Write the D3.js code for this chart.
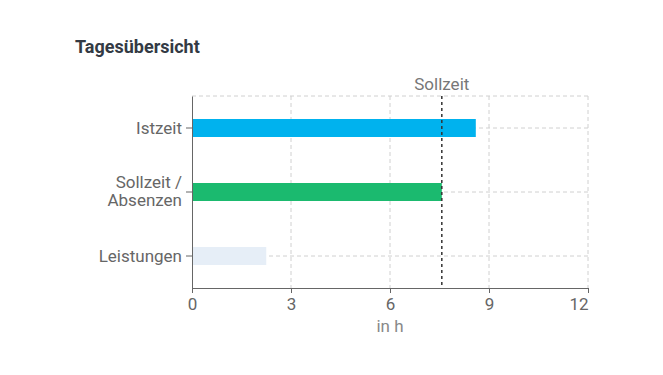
<!DOCTYPE html>
<html>
<head>
<meta charset="utf-8">
<script src="https://cdn.jsdelivr.net/npm/d3@7"></script>
<style>
  body { margin: 0; background: #fff; font-family: Roboto, "Open Sans", sans-serif; }
  .grid line { stroke: #d0d0d0; stroke-dasharray: 4,3; }
  .axis text { fill: #666; font-size: 17px; font-family: Roboto, sans-serif; }
  .axis path, .axis line { stroke: #666; }
</style>
</head>
<body>
<div id="chart"></div>
<script>
// data
var categories = ["Istzeit", "Sollzeit / Absenzen", "Leistungen"];
var hours = [8.6, 7.57, 2.25];
var barColors = ["#00b2ee", "#1bba6f", "#e6eef7"];
var sollzeit = 7.57;
var xTicks = [0, 3, 6, 9, 12];

var svgWidth = 663, svgHeight = 375;
var margin = { top: 96, right: 75, bottom: 87, left: 192 };
var width = svgWidth - margin.left - margin.right;
var height = svgHeight - margin.top - margin.bottom;

var svg = d3.select("#chart").append("svg")
  .attr("width", svgWidth)
  .attr("height", svgHeight);

svg.append("text")
  .attr("x", 75).attr("y", 53)
  .attr("fill", "#333a44")
  .style("font-size", "18px").style("font-weight", "bold")
  .text("Tagesübersicht");

var chartGroup = svg.append("g")
  .attr("transform", `translate(${margin.left}, ${margin.top})`);

var x = d3.scaleLinear().domain([0, 12]).range([0, width]);
var y = d3.scaleBand().domain(categories).range([0, height]);

// grid
var grid = chartGroup.append("g").attr("class", "grid");
grid.selectAll(".v").data(xTicks.slice(1)).enter().append("line")
  .attr("x1", d => x(d)).attr("x2", d => x(d))
  .attr("y1", 0).attr("y2", height);
grid.selectAll(".h").data([null].concat(categories)).enter().append("line")
  .attr("x1", 0).attr("x2", width)
  .attr("y1", d => d === null ? 0 : y(d) + y.bandwidth() / 2)
  .attr("y2", d => d === null ? 0 : y(d) + y.bandwidth() / 2);

// bars
chartGroup.selectAll("rect.bar").data(categories).enter().append("rect")
  .attr("class", "bar")
  .attr("x", 0)
  .attr("y", d => y(d) + y.bandwidth() / 2 - 9)
  .attr("height", 18)
  .attr("width", (d, i) => x(hours[i]))
  .attr("fill", (d, i) => barColors[i]);

// Sollzeit line
chartGroup.append("line")
  .attr("x1", x(sollzeit)).attr("x2", x(sollzeit))
  .attr("y1", 0).attr("y2", height)
  .attr("stroke", "#333").attr("stroke-width", 1.5)
  .attr("stroke-dasharray", "3,3");
chartGroup.append("text")
  .attr("x", x(sollzeit)).attr("y", -6)
  .attr("text-anchor", "middle")
  .attr("fill", "#777")
  .style("font-size", "17px")
  .text("Sollzeit");

// axes
var bottomAxis = d3.axisBottom(x).tickValues(xTicks).tickSize(5).tickSizeOuter(0);
var ba = chartGroup.append("g").attr("class", "axis")
  .attr("transform", `translate(0, ${height})`)
  .call(bottomAxis);
ba.selectAll("text").attr("dy", "0.85em")
  .attr("text-anchor", d => d === 12 ? "end" : "middle");

var leftAxis = d3.axisLeft(y).tickSize(6).tickSizeOuter(0).tickFormat("");
var la = chartGroup.append("g").attr("class", "axis").call(leftAxis);
la.selectAll(".tick").each(function(d) {
  var g = d3.select(this);
  var parts = d === "Sollzeit / Absenzen" ? ["Sollzeit /", "Absenzen"] : [d];
  parts.forEach((p, i) => {
    g.append("text")
      .attr("x", -10).attr("text-anchor", "end").attr("fill", "#666")
      .attr("y", parts.length === 1 ? 6 : (i === 0 ? -4 : 14))
      .text(p);
  });
});

chartGroup.append("text")
  .attr("x", width / 2).attr("y", height + 44)
  .attr("text-anchor", "middle")
  .attr("fill", "#888")
  .style("font-size", "17px")
  .text("in h");
</script>
</body>
</html>
